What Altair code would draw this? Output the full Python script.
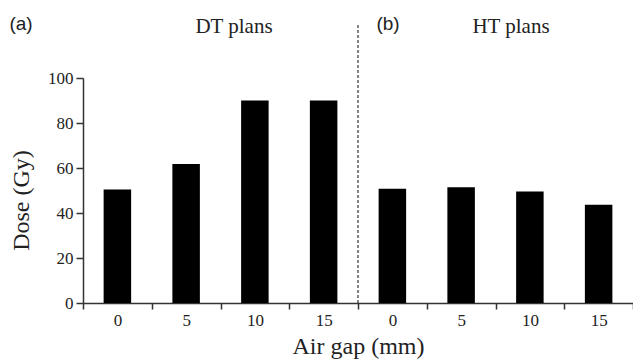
import altair as alt
import pandas as pd

air_gap = ["0", "5", "10", "15"]
dt_dose = [50.5, 61.8, 90.0, 90.0]
ht_dose = [50.8, 51.4, 49.6, 43.7]
groups = ["DT", "HT"]

rows = []
for g, vals in zip(groups, [dt_dose, ht_dose]):
    for gap, v in zip(air_gap, vals):
        rows.append({"key": f"{g}|{gap}", "group": g, "gap": gap, "dose": v})
df = pd.DataFrame(rows)
keys = list(df["key"])

SERIF = "'Liberation Serif', 'Times New Roman', Times, serif"
SANS = "'Liberation Sans', Arial, Helvetica, sans-serif"

xscale = alt.Scale(domain=keys, paddingInner=0, paddingOuter=0)

x_enc = alt.X(
    "key:N",
    scale=xscale,
    axis=alt.Axis(
        title="Air gap (mm)",
        labelExpr="split(datum.label, '|')[1]",
        labelAngle=0,
        tickBand="extent",
        labelFont=SERIF,
        labelFontSize=17,
        labelColor="#222",
        labelPadding=3,
        titleFont=SERIF,
        titleFontSize=24,
        titleFontWeight="normal",
        titleColor="#222",
        titlePadding=6,
        domainColor="#333",
        domainWidth=1.5,
        tickColor="#333",
        tickWidth=1.5,
        tickSize=6,
        grid=False,
    ),
)

y_enc = alt.Y(
    "dose:Q",
    scale=alt.Scale(domain=[0, 100], nice=False),
    axis=alt.Axis(
        title="Dose (Gy)",
        values=[0, 20, 40, 60, 80, 100],
        labelFont=SERIF,
        labelFontSize=17,
        labelColor="#222",
        labelPadding=3,
        titleFont=SERIF,
        titleFontSize=24,
        titleFontWeight="normal",
        titleColor="#222",
        titleX=-50,
        titleY=122,
        titleBaseline="bottom",
        domainColor="#333",
        domainWidth=1.5,
        tickColor="#333",
        tickWidth=1.5,
        tickSize=7,
        grid=False,
    ),
)

bars = alt.Chart(df).mark_bar(color="black", width=alt.RelativeBandSize(0.4)).encode(
    x=x_enc, y=y_enc
)

divider = (
    alt.Chart(df)
    .transform_filter(alt.datum.key == "HT|0")
    .mark_rule(strokeDash=[3, 2], color="#333", strokeWidth=1.2)
    .encode(
        x=alt.X("key:N", scale=xscale, bandPosition=0),
        y=alt.value(-53),
        y2=alt.value(225),
    )
)

one = pd.DataFrame({"k": [0]})

def label(text, x, y, font, size):
    return alt.Chart(one).mark_text(
        font=font, fontSize=size, color="#222", align="center", baseline="alphabetic"
    ).encode(x=alt.value(x), y=alt.value(y), text=alt.value(text))

ann = (
    label("(a)", -62, -48, SANS, 19)
    + label("DT plans", 151, -45, SERIF, 21)
    + label("(b)", 305, -48, SANS, 19)
    + label("HT plans", 428, -45, SERIF, 21)
)

chart = (
    alt.layer(bars, divider, ann)
    .properties(
        width=550,
        height=225,
        autosize=alt.AutoSizeParams(type="none"),
        padding={"left": 83, "top": 78, "right": 0, "bottom": 57},
        background="white",
    )
    .configure_view(stroke=None)
)

chart.save("out.html", embed_options={"renderer": "svg", "actions": False})
